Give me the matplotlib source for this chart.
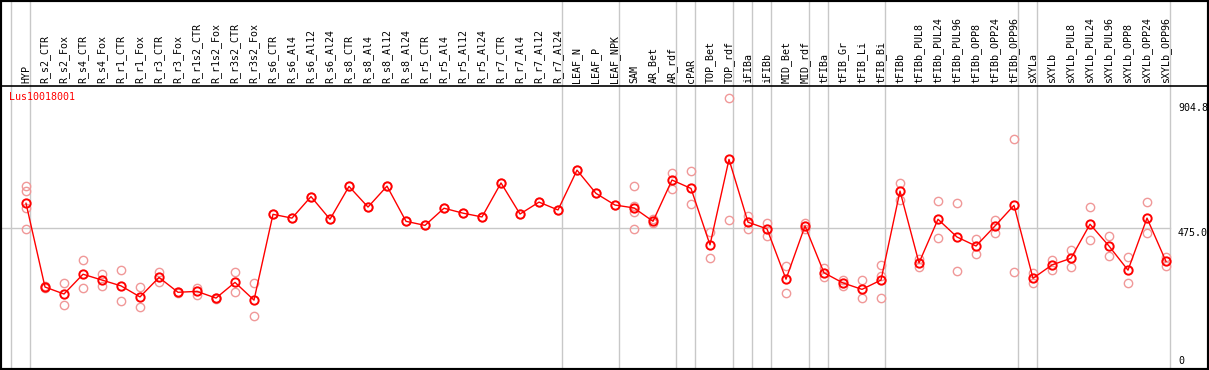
import numpy as np
import matplotlib
matplotlib.use("Agg")
import matplotlib.pyplot as plt

gene = "Lus10018001"

samples = ["HYP",
           "R_s2_CTR", "R_s2_Fox", "R_s4_CTR", "R_s4_Fox", "R_r1_CTR", "R_r1_Fox",
           "R_r3_CTR", "R_r3_Fox", "R_r1s2_CTR", "R_r1s2_Fox", "R_r3s2_CTR", "R_r3s2_Fox",
           "R_s6_CTR", "R_s6_Al4", "R_s6_Al12", "R_s6_Al24",
           "R_s8_CTR", "R_s8_Al4", "R_s8_Al12", "R_s8_Al24",
           "R_r5_CTR", "R_r5_Al4", "R_r5_Al12", "R_r5_Al24",
           "R_r7_CTR", "R_r7_Al4", "R_r7_Al12", "R_r7_Al24",
           "LEAF_N", "LEAF_P", "LEAF_NPK",
           "SAM", "AR_Bet", "AR_rdf", "cPAR", "TOP_Bet", "TOP_rdf",
           "iFIBa", "iFIBb", "MID_Bet", "MID_rdf",
           "tFIBa", "tFIB_Gr", "tFIB_Li", "tFIB_Bi",
           "tFIBb", "tFIBb_PUL8", "tFIBb_PUL24", "tFIBb_PUL96",
           "tFIBb_OPP8", "tFIBb_OPP24", "tFIBb_OPP96",
           "sXYLa", "sXYLb", "sXYLb_PUL8", "sXYLb_PUL24", "sXYLb_PUL96",
           "sXYLb_OPP8", "sXYLb_OPP24", "sXYLb_OPP96"]

# sizes of the sample groups (separated by grey lines)
group_sizes = [1, 28, 3, 3, 1, 2, 1, 1, 2, 1, 3, 7, 1, 7]

means = [560, 272, 248, 316, 296, 276, 238, 305, 254, 257, 234, 288, 227,
         522, 509, 583, 505, 618, 547, 619, 498, 484, 543, 526, 513, 630, 523, 564, 537,
         674, 594, 554,
         544, 498, 640, 611, 417, 711, 495, 472, 299, 482, 321, 286, 264, 296,
         602, 355, 505, 444, 413, 482, 553, 302, 348, 371, 488, 413, 330, 509, 360]

replicates = [[619, 602, 543, 470], [270, 274], [285, 209], [365, 269], [317, 274],
              [331, 224], [272, 202], [325, 288], [256, 252], [268, 245], [236, 232],
              [324, 254], [285, 172],
              [522], [509], [583], [505], [618], [547], [619], [498], [484], [543],
              [526], [513], [630], [523], [564], [537], [674], [594], [554],
              [618, 551, 529, 470], [491, 505], [664, 610], [671, 556], [460, 371],
              [921, 502], [516, 470], [491, 449], [344, 251], [493, 471], [339, 308],
              [277, 295], [295, 235], [348, 311, 235],
              [630, 571], [368, 340], [567, 440], [560, 327], [437, 386], [502, 459],
              [780, 323], [321, 287], [364, 330], [399, 341], [547, 433], [449, 378],
              [375, 286], [564, 458], [376, 346]]

ref_value = 475.0
scale_max = 904.8

W, H = 1209, 370
fig = plt.figure(figsize=(W / 100, H / 100), dpi=100)
ax = fig.add_axes([0, 0, 1, 1])

# pixel layout: category i at x = 26 + 19 i, value v at y = 228 - (v - 475) * 0.2908
px_per_cat = 19.0
x0 = 26.0
px_per_unit = 0.2908
ax.set_xlim(-x0 / px_per_cat, (W - x0) / px_per_cat)
ax.set_ylim(ref_value - (H - 228) / px_per_unit, ref_value + 228 / px_per_unit)
ax.set_xticks([])
ax.set_yticks([])
for s in ax.spines.values():
    s.set_linewidth(3)
    s.set_color("black")

mono = "DejaVu Sans Mono"
fs = 7.2
grey = "#c8c8c8"

x = np.arange(len(samples))

# group separators
ends = np.cumsum(group_sizes) - 1
for b in np.concatenate([[-1], ends]):
    ax.axvline(b + 0.2, color=grey, lw=1.0, zorder=1)

last = len(samples) - 1 + 0.2
ax.plot([ax.get_xlim()[0], last], [ref_value, ref_value], color=grey, lw=1.0, zorder=1)

# header band
hdr = 1 - 85.5 / H
ax.axhline(ax.get_ylim()[0] + hdr * (ax.get_ylim()[1] - ax.get_ylim()[0]),
           color="black", lw=1.2, zorder=2)
tr = ax.get_xaxis_transform()
for i, name in enumerate(samples):
    ax.text(i, 1 - 83 / H, name, transform=tr, rotation=90, ha="center", va="bottom",
            fontsize=fs, family=mono, color="black")

ax.text(-17 / px_per_cat, ref_value + (228 - 97.5) / px_per_unit, gene, color="red",
        fontsize=fs, family=mono, ha="left", va="center", zorder=6)

# scale labels
lx = (1178 - x0) / px_per_cat
ax.text(lx, scale_max, "%.1f" % scale_max, fontsize=fs, family=mono, va="top", ha="left")
ax.text(lx, ref_value, "%.1f" % ref_value, fontsize=fs, family=mono, va="top", ha="left")
ax.text(lx, 0, "0", fontsize=fs, family=mono, va="bottom", ha="left")

# replicates
for i, reps in enumerate(replicates):
    ax.plot([i] * len(reps), reps, "o", ms=6, mfc="none", mec="#f09898", mew=1.0, zorder=3)

ax.plot(x, means, "-", color="red", lw=1.0, zorder=4)
ax.plot(x, means, "o", ms=6, mfc="none", mec="red", mew=1.4, zorder=5)

fig.savefig("out.png", dpi=100)
